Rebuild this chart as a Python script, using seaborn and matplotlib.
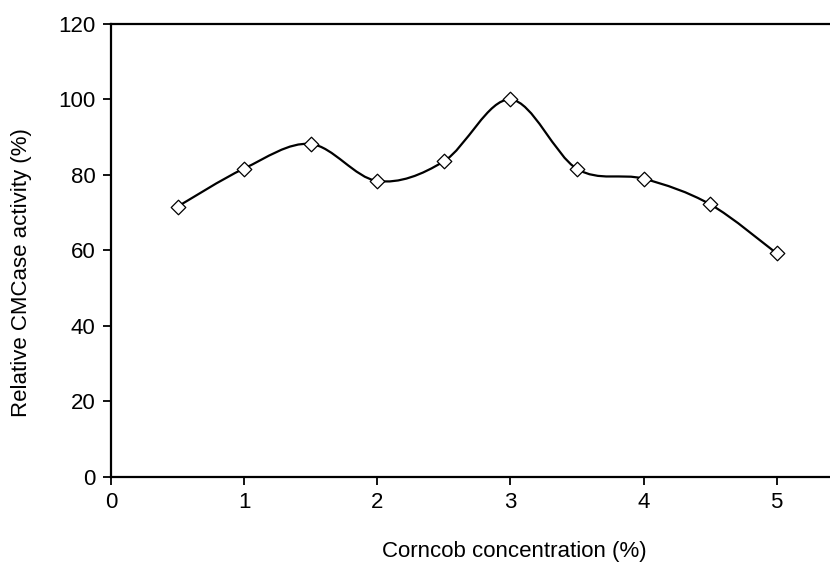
import pandas as pd
import matplotlib
matplotlib.use("Agg")
import matplotlib.pyplot as plt
import seaborn as sns
from matplotlib.path import Path
from matplotlib.patches import PathPatch

# Data
concentration = [0.5, 1.0, 1.5, 2.0, 2.5, 3.0, 3.5, 4.0, 4.5, 5.0]
activity = [71.6, 81.7, 88.2, 78.4, 83.6, 100.0, 81.6, 79.0, 72.2, 59.2]
x_ticks = [0, 1, 2, 3, 4, 5]
y_ticks = [0, 20, 40, 60, 80, 100, 120]

df = pd.DataFrame({"conc": concentration, "act": activity})

sns.set_style("white")
plt.rcParams["font.family"] = ["Liberation Sans", "DejaVu Sans"]

fig = plt.figure(figsize=(8.3, 5.72), dpi=100)
ax = fig.add_axes([0.1337, 0.1666, 0.8663, 0.7914])

# Smoothed line (Excel style Bezier through the points)
pts = list(zip(df.conc, df.act))
verts = [pts[0]]
codes = [Path.MOVETO]
for i in range(len(pts) - 1):
    p0 = pts[i - 1] if i > 0 else pts[i]
    p1 = pts[i]
    p2 = pts[i + 1]
    p3 = pts[i + 2] if i + 2 < len(pts) else pts[i + 1]
    c1 = (p1[0] + (p2[0] - p0[0]) / 6, p1[1] + (p2[1] - p0[1]) / 6)
    c2 = (p2[0] - (p3[0] - p1[0]) / 6, p2[1] - (p3[1] - p1[1]) / 6)
    verts += [c1, c2, p2]
    codes += [Path.CURVE4] * 3
ax.add_patch(PathPatch(Path(verts, codes), facecolor="none", edgecolor="black", lw=1.6, zorder=2))

# Markers
sns.scatterplot(data=df, x="conc", y="act", marker="D", s=55,
                facecolor="white", edgecolor="black", linewidth=0.9, zorder=3, ax=ax)

ax.set_xlim(0, 5.4)
ax.set_ylim(0, 120)
ax.set_xticks(x_ticks)
ax.set_yticks(y_ticks)
ax.tick_params(axis="both", direction="out", length=6, width=1.3, labelsize=16,
               colors="black", bottom=True, left=True, pad=5)

for side in ["left", "bottom", "top"]:
    ax.spines[side].set_visible(True)
    ax.spines[side].set_color("black")
    ax.spines[side].set_linewidth(1.6)
ax.spines["right"].set_visible(False)

ax.set_xlabel("Corncob concentration (%)", fontsize=16, color="black")
ax.set_ylabel("Relative CMCase activity (%)", fontsize=16, color="black")
ax.xaxis.set_label_coords(0.5605, -0.141)
ax.yaxis.set_label_coords(-0.11, 0.45)

plt.savefig("out.png", dpi=100)
